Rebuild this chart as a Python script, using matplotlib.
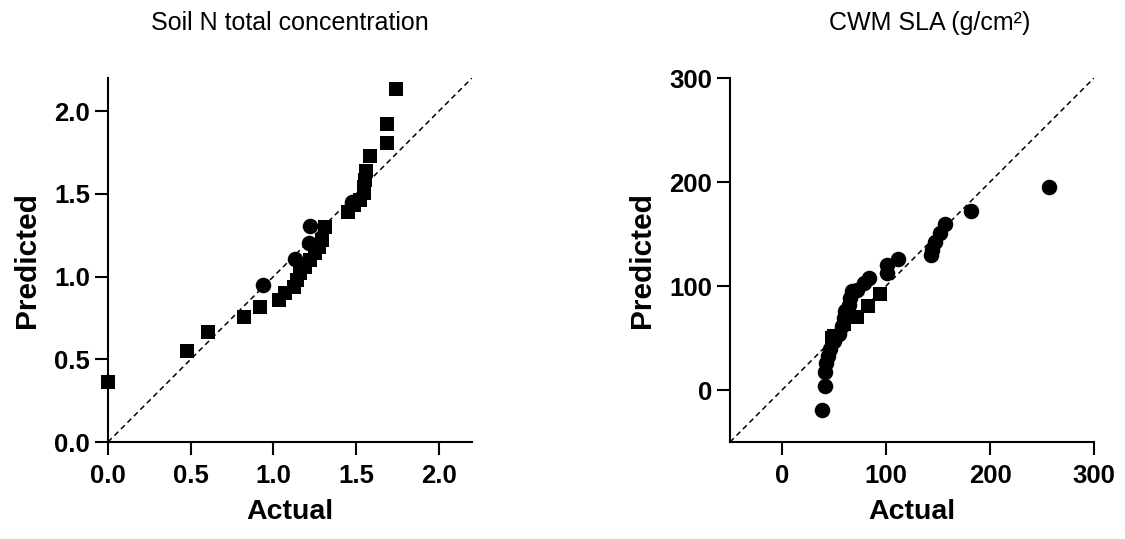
import matplotlib
matplotlib.use("Agg")
import matplotlib.pyplot as plt
import numpy as np

plt.rcParams['font.family'] = ['Liberation Sans', 'DejaVu Sans']

# ---- Left panel: Soil N total concentration ----
soil_sq_actual = [0.0, 0.477, 0.604, 0.820, 0.916, 1.031, 1.071, 1.122, 1.142, 1.162,
                  1.192, 1.223, 1.253, 1.273, 1.293, 1.313, 1.450, 1.484, 1.525, 1.545,
                  1.545, 1.555, 1.561, 1.581, 1.686, 1.686, 1.742]
soil_sq_pred = [0.363, 0.551, 0.666, 0.757, 0.817, 0.858, 0.898, 0.938, 0.979, 1.019,
                1.060, 1.100, 1.140, 1.181, 1.221, 1.302, 1.393, 1.433, 1.463, 1.504,
                1.544, 1.584, 1.635, 1.730, 1.810, 1.923, 2.133]
soil_ci_actual = [0.937, 1.132, 1.213, 1.223, 1.474]
soil_ci_pred = [0.949, 1.104, 1.201, 1.308, 1.453]
soil_ticks = [0.0, 0.5, 1.0, 1.5, 2.0]
soil_tick_labels = ["0.0", "0.5", "1.0", "1.5", "2.0"]
soil_lim = [0.0, 2.2]

# ---- Right panel: CWM SLA ----
sla_ci_actual = [257, 181.6, 156.9, 152, 147.3, 144, 143.1, 112, 100.9, 100.9, 83.3,
                 78.4, 72, 67.2, 65.6, 64, 60.8, 59.2, 57.6, 54.4, 49.6, 46.4, 43.9,
                 42.6, 41, 41, 38.4]
sla_ci_pred = [195, 172, 159.6, 150.6, 142.7, 134.7, 130, 125.8, 120.4, 112.4, 107.6,
               102.9, 96.5, 94.9, 88.5, 82.2, 75.8, 69.4, 61.5, 53.5, 47.1, 39.2, 32.8,
               25.8, 16.9, 4.1, -19.1]
sla_sq_actual = [93.8, 82.6, 72.0, 59.2, 49.6, 48.0]
sla_sq_pred = [92.7, 80.6, 70.4, 63.0, 51.9, 50.3]
sla_ticks = [0, 100, 200, 300]
sla_tick_labels = ["0", "100", "200", "300"]
sla_lim = [-50, 300]

titles = ["Soil N total concentration", "CWM SLA (g/cm\u00b2)"]

W, H = 1125, 539
fig = plt.figure(figsize=(W / 100, H / 100), dpi=100)

ax1 = fig.add_axes([108 / W, 1 - 442 / H, 364 / W, 364 / H])
ax2 = fig.add_axes([730 / W, 1 - 442 / H, 364 / W, 364 / H])

panels = [
    (ax1, soil_sq_actual, soil_sq_pred, soil_ci_actual, soil_ci_pred, soil_ticks, soil_tick_labels, soil_lim),
    (ax2, sla_sq_actual, sla_sq_pred, sla_ci_actual, sla_ci_pred, sla_ticks, sla_tick_labels, sla_lim),
]
title_x = [290, 930]

for i, (ax, sqx, sqy, cix, ciy, ticks, tlabels, lim) in enumerate(panels):
    ax.plot(lim, lim, linestyle=(0, (3.5, 2.5)), color='black', linewidth=1.1, zorder=1)
    ax.scatter(sqx, sqy, marker='s', s=115, color='black', linewidths=0, zorder=3, clip_on=False)
    ax.scatter(cix, ciy, marker='o', s=125, color='black', linewidths=0, zorder=3, clip_on=False)
    ax.set_xlim(lim)
    ax.set_ylim(lim)
    ax.set_xticks(ticks)
    ax.set_yticks(ticks)
    ax.set_xticklabels(tlabels, fontweight='bold', fontsize=18.5)
    ax.set_yticklabels(tlabels, fontweight='bold', fontsize=18.5)
    for s in ['top', 'right']:
        ax.spines[s].set_visible(False)
    for s in ['left', 'bottom']:
        ax.spines[s].set_linewidth(1.5)
    ax.tick_params(axis='both', direction='out', length=9.5, width=1.5)
    ax.tick_params(axis='x', pad=6.5)
    ax.tick_params(axis='y', pad=3.5)
    ax.set_xlabel("Actual", fontweight='bold', fontsize=20.5, labelpad=7.5)
    ax.set_ylabel("Predicted", fontweight='bold', fontsize=21.5, labelpad=9.5)
    fig.text(title_x[i] / W, 1 - 23 / H, titles[i], ha='center', va='center', fontsize=18)

fig.savefig("out.png", dpi=100, facecolor='white')
